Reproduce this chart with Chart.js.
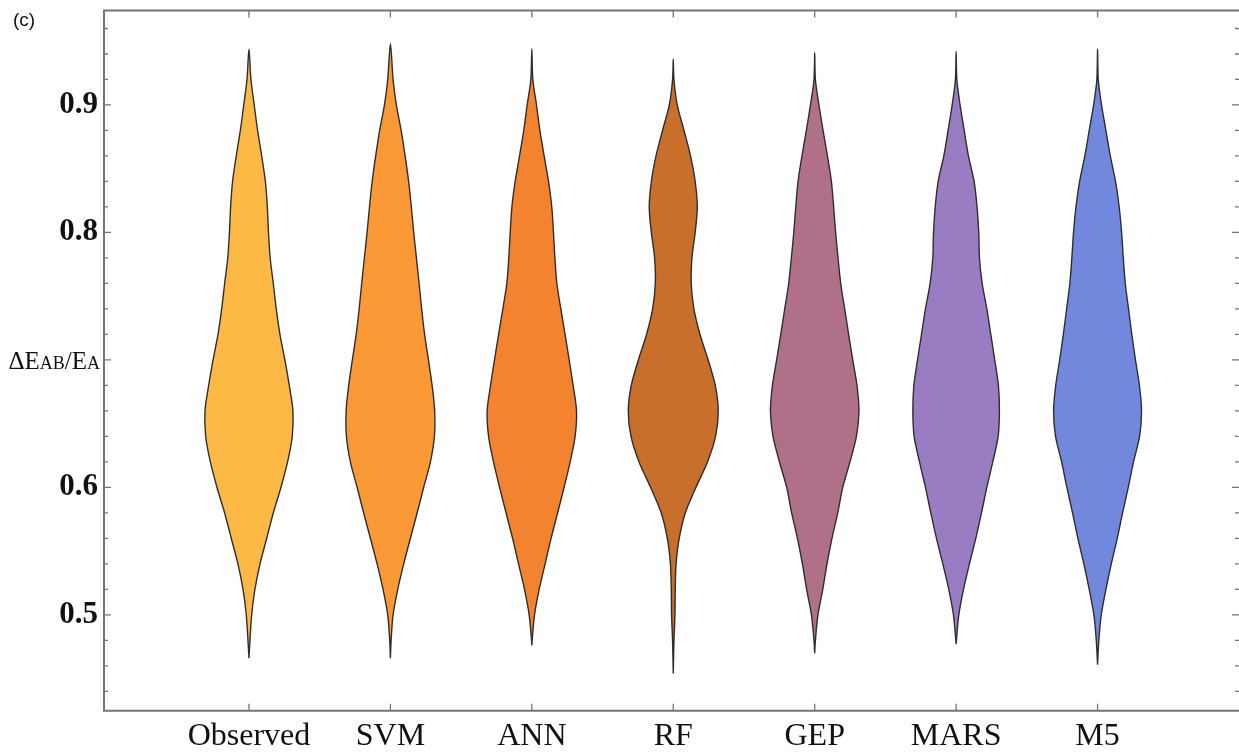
<!DOCTYPE html>
<html>
<head>
<meta charset="utf-8">
<script src="https://cdn.jsdelivr.net/npm/chart.js@4.4.1/dist/chart.umd.min.js"></script>
<style>
  html, body { margin: 0; padding: 0; background: #ffffff; }
  #wrap { width: 1239px; height: 754px; position: relative; }
</style>
</head>
<body>
<div id="wrap"><canvas id="violins"></canvas></div>
<script>
// Model names along the horizontal axis
const categories = ['Observed', 'SVM', 'ANN', 'RF', 'GEP', 'MARS', 'M5'];

// ΔEAB/EA levels at which the violin half-widths are sampled
const levels = [0.48, 0.50, 0.52, 0.54, 0.56, 0.58, 0.60, 0.62, 0.64, 0.66, 0.68, 0.70,
                0.72, 0.74, 0.76, 0.78, 0.80, 0.82, 0.84, 0.86, 0.88, 0.90, 0.92];

// Half-width of each violin at those levels (fraction of category spacing)
const halfWidthObserved = [0.007, 0.019, 0.042, 0.078, 0.125, 0.172, 0.226, 0.273, 0.306, 0.311, 0.285, 0.254,
                           0.219, 0.193, 0.172, 0.150, 0.138, 0.130, 0.116, 0.090, 0.061, 0.037, 0.014];
const halfWidthSVM      = [0.005, 0.019, 0.052, 0.094, 0.141, 0.189, 0.235, 0.283, 0.311, 0.313, 0.295, 0.269,
                           0.242, 0.221, 0.203, 0.184, 0.165, 0.148, 0.129, 0.104, 0.076, 0.042, 0.019];
const halfWidthANN      = [0.002, 0.019, 0.052, 0.094, 0.136, 0.182, 0.228, 0.271, 0.306, 0.316, 0.292, 0.264,
                           0.235, 0.205, 0.177, 0.163, 0.153, 0.141, 0.118, 0.087, 0.057, 0.033, 0.007];
const halfWidthRF       = [0.005, 0.012, 0.014, 0.020, 0.042, 0.085, 0.160, 0.242, 0.299, 0.318, 0.297, 0.247,
                           0.189, 0.146, 0.127, 0.132, 0.155, 0.170, 0.155, 0.122, 0.076, 0.028, 0.005];
const halfWidthGEP      = [0.005, 0.023, 0.057, 0.087, 0.122, 0.163, 0.198, 0.249, 0.295, 0.313, 0.299, 0.269,
                           0.240, 0.212, 0.184, 0.165, 0.148, 0.134, 0.118, 0.090, 0.059, 0.030, 0.005];
const halfWidthMARS     = [0.002, 0.019, 0.052, 0.094, 0.139, 0.179, 0.217, 0.259, 0.297, 0.306, 0.299, 0.273,
                           0.245, 0.217, 0.184, 0.165, 0.160, 0.148, 0.127, 0.087, 0.057, 0.028, 0.005];
const halfWidthM5       = [0.009, 0.026, 0.059, 0.097, 0.139, 0.177, 0.217, 0.254, 0.297, 0.311, 0.296, 0.268,
                           0.242, 0.219, 0.196, 0.182, 0.170, 0.153, 0.127, 0.090, 0.059, 0.028, 0.005];

// Lowest and highest value of each distribution (ends of the violins)
const tipLow  = [0.466, 0.466, 0.476, 0.454, 0.470, 0.477, 0.461];
const tipHigh = [0.944, 0.948, 0.944, 0.936, 0.941, 0.942, 0.944];

// Labelled ticks on the value axis
const yTickValues = [0.5, 0.6, 0.7, 0.8, 0.9];
const yMinorStep = 0.02;

const fillColors = ['#fdb946', '#fa9935', '#f3832f', '#c86f2b', '#b0708a', '#9a7cc3', '#7288dc'];
const halfWidths = [halfWidthObserved, halfWidthSVM, halfWidthANN, halfWidthRF,
                    halfWidthGEP, halfWidthMARS, halfWidthM5];

// Closed outline of one violin: up the right side, down the left side
function violinOutline(i) {
  const c = i + 1;
  const w = halfWidths[i];
  const pts = [{ x: c, y: tipLow[i] }];
  levels.forEach((lv, k) => pts.push({ x: c + w[k], y: lv }));
  pts.push({ x: c, y: tipHigh[i] });
  for (let k = levels.length - 1; k >= 0; k--) pts.push({ x: c - w[k], y: levels[k] });
  pts.push({ x: c, y: tipLow[i] });
  return pts;
}

const datasets = categories.map((name, i) => ({
  label: name,
  data: violinOutline(i),
  backgroundColor: fillColors[i],
  borderColor: '#2e2e2e',
  borderWidth: 1.4,
  borderJoinStyle: 'round',
  pointRadius: 0,
  tension: 0.3,
  fill: 'shape'
}));

const FRAME = '#747474';

// Plot frame with inward ticks on every side
const frameTicks = {
  id: 'frameTicks',
  afterDatasetsDraw(chart) {
    const { ctx, chartArea: a, scales } = chart;
    const y = scales.y, x = scales.x;
    ctx.save();
    ctx.strokeStyle = FRAME;
    ctx.lineWidth = 2;
    ctx.beginPath();
    ctx.moveTo(a.right + 2, a.top); ctx.lineTo(a.left, a.top);
    ctx.lineTo(a.left, a.bottom); ctx.lineTo(a.right + 2, a.bottom);
    ctx.stroke();
    ctx.lineWidth = 1.3;
    ctx.beginPath();
    const start = Math.ceil(y.min / yMinorStep) * yMinorStep;
    for (let v = start; v <= y.max + 1e-9; v += yMinorStep) {
      const py = y.getPixelForValue(v);
      const major = Math.abs(v * 10 - Math.round(v * 10)) < 1e-6;
      const len = major ? 7 : 4;
      ctx.moveTo(a.left, py); ctx.lineTo(a.left + len, py);
      ctx.moveTo(a.right, py); ctx.lineTo(a.right - len, py);
    }
    categories.forEach((_, i) => {
      const px = x.getPixelForValue(i + 1);
      ctx.moveTo(px, a.bottom); ctx.lineTo(px, a.bottom - 7);
      ctx.moveTo(px, a.top); ctx.lineTo(px, a.top + 7);
    });
    ctx.stroke();
    ctx.restore();
  }
};

// Panel tag and the ΔEAB/EA axis name set at the 0.7 level
const axisTexts = {
  id: 'axisTexts',
  afterDraw(chart) {
    const { ctx, scales } = chart;
    ctx.save();
    ctx.fillStyle = '#111';
    ctx.textBaseline = 'top';
    ctx.font = '19px "Liberation Sans", Arial, sans-serif';
    ctx.fillText('(c)', 13, 11);

    const big = '25px "Liberation Serif", "Times New Roman", serif';
    const small = '18px "Liberation Serif", "Times New Roman", serif';
    const parts = [['Δ', big], ['E', big], ['AB', small], ['/', big], ['E', big], ['A', small]];
    let total = 0;
    parts.forEach(([t, f]) => { ctx.font = f; total += ctx.measureText(t).width; });
    let px = 100 - total;
    const base = scales.y.getPixelForValue(0.7) + 9;
    ctx.textBaseline = 'alphabetic';
    parts.forEach(([t, f]) => { ctx.font = f; ctx.fillText(t, px, base); px += ctx.measureText(t).width; });
    ctx.restore();
  }
};

new Chart(document.getElementById('violins'), {
  type: 'line',
  data: { datasets },
  options: {
    responsive: true,
    maintainAspectRatio: false,
    animation: false,
    layout: { padding: { top: 10.5, right: 0, left: 0, bottom: 0 } },
    plugins: { legend: { display: false }, tooltip: { enabled: false } },
    scales: {
      x: {
        type: 'linear',
        min: -0.025,
        max: 8,
        grid: { display: false, drawTicks: false },
        border: { display: false },
        afterBuildTicks: (s) => { s.ticks = categories.map((_, i) => ({ value: i + 1 })); },
        afterFit: (s) => { s.height = 43.3; s.paddingLeft = 0; s.paddingRight = 0; },
        ticks: {
          autoSkip: false,
          maxRotation: 0,
          padding: 7,
          color: '#111',
          font: { family: '"Liberation Serif", "Times New Roman", serif', size: 32 },
          callback: (v) => categories[Math.round(v) - 1] || ''
        }
      },
      y: {
        type: 'linear',
        min: 0.4249,
        max: 0.9741,
        grid: { display: false, drawTicks: false },
        border: { display: false },
        afterBuildTicks: (s) => { s.ticks = yTickValues.map(v => ({ value: v })); },
        afterFit: (s) => { s.width = 104; s.paddingTop = 0; s.paddingBottom = 0; },
        ticks: {
          autoSkip: false,
          padding: 6,
          color: '#111',
          font: { family: '"Liberation Serif", "Times New Roman", serif', size: 31, weight: 'bold' },
          callback: (v) => (Math.abs(v - 0.7) < 1e-6 ? '' : v.toFixed(1))
        }
      }
    }
  },
  plugins: [frameTicks, axisTexts]
});
</script>
</body>
</html>
